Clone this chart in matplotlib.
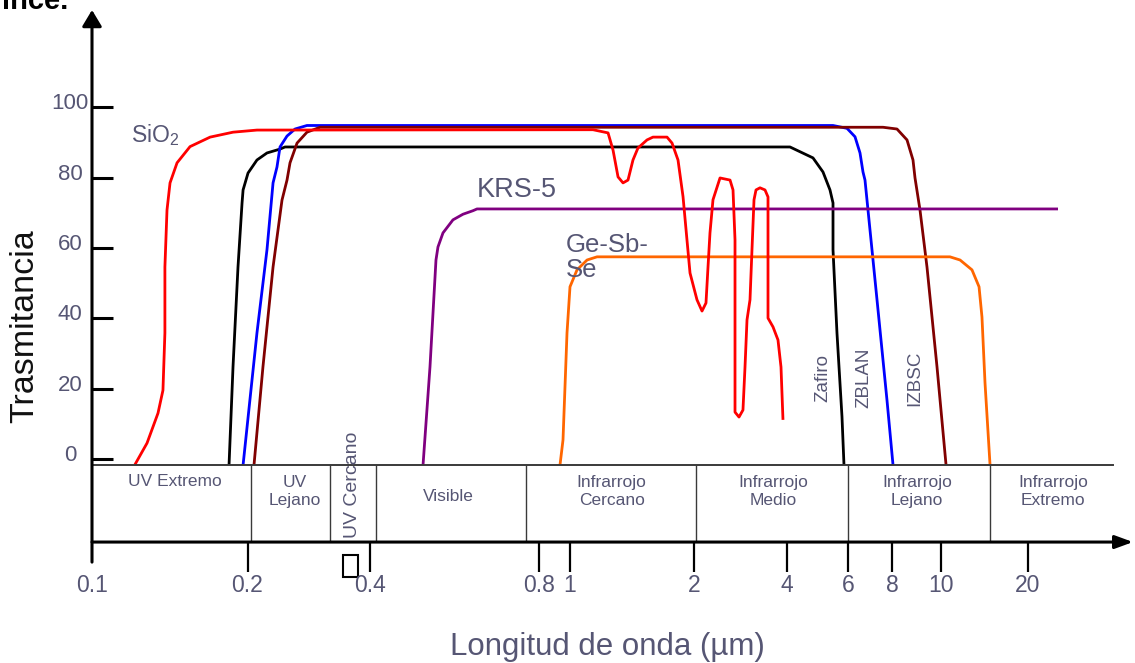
import numpy as np
import matplotlib.pyplot as plt
from matplotlib.patches import Rectangle

plt.rcParams['font.family'] = ['Liberation Sans', 'DejaVu Sans']
plt.rcParams['mathtext.default'] = 'regular'

TXT = '#565674'

# wavelength axis of the original is hand drawn (not a true log axis):
# labelled wavelengths and where each one sits along the 1135 px wide figure
tick_um = [0.1, 0.2, 0.4, 0.8, 1, 2, 4, 6, 8, 10, 20]
tick_labels = ['0.1', '0.2', '0.4', '0.8', '1', '2', '4', '6', '8', '10', '20']
axis_px = [92, 247.5, 370, 539, 570, 694, 787, 848, 892, 941, 1028]

yticks = [0, 20, 40, 60, 80, 100]

# transmittance curves, wavelength in um, transmittance in %
sio2_um = [0.1211, 0.1278, 0.1342, 0.1372, 0.1384, 0.1384, 0.1397, 0.1416, 0.1461, 0.1548,
           0.1693, 0.1875, 0.2110, 1.137, 1.237, 1.272, 1.308, 1.345, 1.383, 1.422, 1.462,
           1.538, 1.590, 1.720, 1.769, 1.829, 1.881, 1.923, 1.956, 2.045, 2.123, 2.187,
           2.220, 2.253, 2.304, 2.428, 2.616, 2.675, 2.715, 2.715, 2.715, 2.797, 2.881,
           2.925, 2.969, 3.036, 3.081, 3.128, 3.175, 3.271, 3.395, 3.472, 3.472, 3.472,
           3.604, 3.740, 3.825, 3.882]
sio2_t = [-1.5, 4.6, 13.1, 19.6, 35.9, 54.6, 70.8, 78.5, 84.2, 88.8,
          91.5, 92.9, 93.5, 93.6, 92.7, 87.8, 80.2, 78.5, 79.3, 85.0, 88.4,
          90.7, 91.5, 91.5, 89.8, 85.0, 74.6, 62.3, 52.9, 45.3, 42.1, 44.4,
          54.6, 64.3, 73.7, 79.9, 79.3, 76.5, 62.3, 35.9, 13.4, 12.0, 14.0,
          26.2, 39.6, 45.3, 59.5, 73.7, 76.5, 77.1, 76.5, 74.5, 54.6, 40.1,
          37.6, 33.9, 26.2, 11.2]

zafiro_um = [0.1842, 0.1875, 0.1917, 0.1952, 0.1961, 0.2006, 0.2110, 0.2233, 0.2404, 0.2473,
             4.080, 4.754, 5.081, 5.323, 5.431, 5.431, 5.576, 5.765, 5.842]
zafiro_t = [-1.6, 26.3, 54.6, 72.8, 76.5, 81.3, 85.0, 87.0, 88.1, 88.7,
            88.7, 85.6, 81.6, 76.5, 72.8, 59.5, 35.9, 12.1, -1.6]

zblan_um = [0.1961, 0.2110, 0.2233, 0.2311, 0.2363, 0.2404, 0.2501, 0.2617, 0.2800,
            5.431, 5.960, 6.281, 6.490, 6.618, 6.705, 6.838, 7.253, 7.742, 8.037]
zblan_t = [-1.6, 35.9, 59.5, 78.5, 83.0, 88.7, 91.8, 93.8, 94.8,
           94.8, 94.0, 91.6, 87.0, 81.6, 79.3, 70.8, 45.3, 16.8, -1.6]

izbsc_um = [0.2075, 0.2183, 0.2311, 0.2431, 0.2501, 0.2544, 0.2647, 0.2800, 0.3015,
            7.542, 8.184, 8.566, 8.803, 8.884, 9.088, 9.382, 9.819, 10.41]
izbsc_t = [-1.6, 26.3, 54.6, 73.6, 79.3, 84.2, 89.8, 92.9, 94.3,
           94.3, 93.8, 90.7, 85.0, 79.9, 70.8, 54.6, 26.3, -1.6]

krs5_um = [0.4972, 0.5116, 0.5243, 0.5286, 0.5396, 0.5621, 0.5857, 0.6102, 0.6204, 25.40]
krs5_t = [-1.6, 26.3, 56.6, 60.3, 64.3, 68.0, 69.6, 70.6, 71.1, 71.1]

gesbse_um = [0.9306, 0.9509, 0.9787, 1.0, 1.040, 1.100, 1.163,
             10.74, 11.64, 12.80, 13.54, 13.86, 14.20, 14.78]
gesbse_t = [-1.6, 5.5, 35.9, 49.0, 53.8, 56.6, 57.5,
            57.5, 56.6, 53.8, 49.0, 40.4, 21.7, -1.6]

# spectral regions
region_edges = [0.2038, 0.3182, 0.4098, 0.7575, 2.03, 6.0, 14.75]
region_names = ['UV Extremo', 'UV\nLejano', 'Visible', 'Infrarrojo\nCercano',
                'Infrarrojo\nMedio', 'Infrarrojo\nLejano', 'Infrarrojo\nExtremo']
region_mid = [0.1444, 0.2617, 0.5526, 1.2625, 3.604, 8.965, 24.48]
region_y = [-6.3, -9.2, -10.6, -9.2, -9.2, -9.2, -9.2]

LT = np.log10(tick_um)
P = np.array(axis_px, float)


def fwd(x):
    lx = np.log10(np.maximum(np.asarray(x, float), 1e-9))
    out = np.interp(lx, LT, P)
    out = np.where(lx < LT[0], P[0] + (lx - LT[0]) * (P[1] - P[0]) / (LT[1] - LT[0]), out)
    out = np.where(lx > LT[-1], P[-1] + (lx - LT[-1]) * (P[-1] - P[-2]) / (LT[-1] - LT[-2]), out)
    return out


def inv(u):
    u = np.asarray(u, float)
    lx = np.interp(u, P, LT)
    lx = np.where(u < P[0], LT[0] + (u - P[0]) * (LT[1] - LT[0]) / (P[1] - P[0]), lx)
    lx = np.where(u > P[-1], LT[-1] + (u - P[-1]) * (LT[-1] - LT[-2]) / (P[-1] - P[-2]), lx)
    return 10 ** lx


fig = plt.figure(figsize=(11.35, 6.63), dpi=100)
ax = fig.add_axes([0, 0, 1, 1])
ax.set_xscale('function', functions=(fwd, inv))
ax.set_xlim(float(inv(0)), float(inv(1135)))
ax.set_ylim(-57.85, 130.44)
ax.axis('off')

x_axis_y = -23.5
box_top = -1.76

# curves
curves = [(zafiro_um, zafiro_t, 'black'), (zblan_um, zblan_t, '#0000ff'),
          (izbsc_um, izbsc_t, '#800000'), (krs5_um, krs5_t, '#800080'),
          (gesbse_um, gesbse_t, '#ff6600'), (sio2_um, sio2_t, '#ff0000')]
for xs, ys, c in curves:
    ax.plot(xs, ys, color=c, lw=2, solid_joinstyle='round', solid_capstyle='butt')

# curve labels
ax.text(0.119, 92.1, 'SiO$_2$', color=TXT, fontsize=16.5, ha='left', va='center')
ax.text(0.6204, 76.5, 'KRS-5', color=TXT, fontsize=19.5, ha='left', va='center')
ax.text(0.9717, 57.3, 'Ge-Sb-\nSe', color=TXT, fontsize=18.5, ha='left', va='center',
        linespacing=1.1)
for name, xu in zip(['Zafiro', 'ZBLAN', 'IZBSC'], [5.081, 6.661, 8.863]):
    ax.text(xu, 23.1, name, color=TXT, fontsize=13.5, rotation=90, ha='center', va='center')

# axes drawn by hand
ax.annotate('', xy=(0.1, 127.6), xytext=(0.1, -29.2),
            arrowprops=dict(arrowstyle='-|>,head_length=0.55,head_width=0.33',
                            mutation_scale=18, lw=2.2, color='black', shrinkA=0, shrinkB=0))
ax.annotate('', xy=(46.16, x_axis_y), xytext=(0.1, x_axis_y),
            arrowprops=dict(arrowstyle='-|>,head_length=0.6,head_width=0.22',
                            mutation_scale=18, lw=2.2, color='black', shrinkA=0, shrinkB=0))

for v in yticks:
    ax.plot([0.1, 0.1097], [v, v], color='black', lw=2.2, solid_capstyle='butt')
    ax.text(0.0907, v + 1, str(v), color=TXT, fontsize=16, ha='center', va='center')

for u, lab in zip(tick_um, tick_labels):
    if u > 0.1:
        ax.plot([u, u], [x_axis_y, -32.0], color='black', lw=1.6, solid_capstyle='butt')
    ax.text(u, -35.9, lab, color=TXT, fontsize=16.5, ha='center', va='center')

# spectral band box
ax.plot([0.1, 39.4], [box_top, box_top], color='#3a3a3a', lw=1.4)
ax.vlines(region_edges, x_axis_y, box_top, color='#3a3a3a', lw=1.0)
for name, xu, yv in zip(region_names, region_mid, region_y):
    ax.text(xu, yv, name, color=TXT, fontsize=12.5, ha='center', va='center',
            linespacing=1.25)
ax.text(0.3633, -7.3, 'UV Cercano', color=TXT, fontsize=14, rotation=90,
        ha='center', va='center')

# missing-glyph box under the axis
ax.add_patch(Rectangle((0.3427, -33.34), 0.3744 - 0.3427, 6.16, fill=False,
                       edgecolor='black', lw=1.5))

fig.text(25 / 1135, 1 - 326 / 663, 'Trasmitancia', color='#111111', fontsize=24.5,
         rotation=90, ha='center', va='center')
fig.text(607 / 1135, 1 - 655 / 663, 'Longitud de onda (µm)', color=TXT, fontsize=22.5,
         ha='center', va='baseline')
fig.text(68 / 1135, 1 - 9 / 663, 'ince.', color='black', fontsize=21,
         fontweight='bold', ha='right', va='baseline')

fig.savefig('out.png', dpi=100)
